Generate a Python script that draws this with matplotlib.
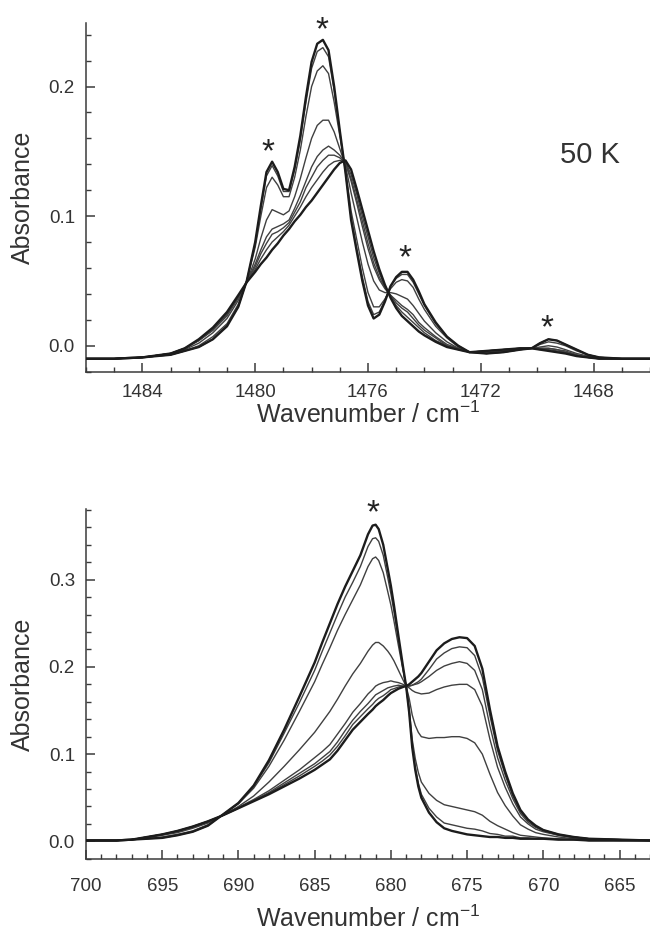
import numpy as np
import matplotlib
matplotlib.use("Agg")
import matplotlib.pyplot as plt
from matplotlib.ticker import MultipleLocator, FormatStrFormatter

plt.rcParams['font.family'] = ['Liberation Sans', 'DejaVu Sans']
plt.rcParams['mathtext.default'] = 'regular'

# ---- upper panel: CH bending region, spectra ----
top_wn = [1486, 1485, 1484, 1483, 1482.5, 1482, 1481.5, 1481, 1480.6, 1480.3,
          1480.0, 1479.8, 1479.6, 1479.4, 1479.2, 1479.0, 1478.8, 1478.6, 1478.4, 1478.2,
          1478.0, 1477.8, 1477.6, 1477.4, 1477.2, 1477.0, 1476.8, 1476.6, 1476.4, 1476.2,
          1476.0, 1475.8, 1475.6, 1475.4, 1475.2, 1475.0, 1474.8, 1474.6, 1474.4, 1474.2,
          1474.0, 1473.6, 1473.2, 1472.8, 1472.4, 1471.8, 1471.2, 1470.6, 1470.2, 1469.9,
          1469.6, 1469.3, 1469.0, 1468.6, 1468.2, 1467.8, 1467, 1466]

top_a1 = [-0.010, -0.010, -0.009, -0.007, -0.004, -0.001, 0.005, 0.015, 0.030, 0.050,
          0.080, 0.108, 0.134, 0.142, 0.134, 0.121, 0.120, 0.138, 0.162, 0.192,
          0.219, 0.233, 0.236, 0.228, 0.200, 0.166, 0.134, 0.097, 0.073, 0.050,
          0.031, 0.021, 0.024, 0.034, 0.046, 0.053, 0.057, 0.057, 0.051, 0.042,
          0.032, 0.018, 0.007, 0.000, -0.005, -0.006, -0.005, -0.003, -0.002, 0.002,
          0.005, 0.004, 0.001, -0.003, -0.007, -0.009, -0.010, -0.010]
top_a2 = [-0.010, -0.010, -0.009, -0.007, -0.004, -0.001, 0.005, 0.016, 0.030, 0.050,
          0.079, 0.106, 0.131, 0.139, 0.131, 0.119, 0.119, 0.136, 0.159, 0.188,
          0.214, 0.227, 0.230, 0.223, 0.197, 0.165, 0.134, 0.099, 0.075, 0.053,
          0.034, 0.024, 0.026, 0.035, 0.046, 0.052, 0.055, 0.055, 0.049, 0.040,
          0.031, 0.017, 0.007, 0.000, -0.005, -0.006, -0.005, -0.003, -0.002, 0.002,
          0.005, 0.004, 0.001, -0.003, -0.007, -0.009, -0.010, -0.010]
top_a3 = [-0.010, -0.010, -0.009, -0.007, -0.004, 0.000, 0.007, 0.017, 0.032, 0.050,
          0.076, 0.100, 0.122, 0.130, 0.124, 0.115, 0.115, 0.130, 0.151, 0.177,
          0.200, 0.212, 0.216, 0.210, 0.188, 0.162, 0.136, 0.104, 0.082, 0.060,
          0.041, 0.030, 0.030, 0.036, 0.044, 0.049, 0.051, 0.050, 0.045, 0.036,
          0.028, 0.015, 0.006, -0.001, -0.005, -0.006, -0.005, -0.003, -0.002, 0.001,
          0.003, 0.002, 0.000, -0.004, -0.007, -0.009, -0.010, -0.010]
top_a4 = [-0.010, -0.010, -0.009, -0.006, -0.003, 0.002, 0.010, 0.021, 0.035, 0.049,
          0.067, 0.083, 0.097, 0.105, 0.103, 0.101, 0.104, 0.115, 0.129, 0.145,
          0.160, 0.170, 0.174, 0.174, 0.165, 0.152, 0.139, 0.118, 0.099, 0.080,
          0.063, 0.050, 0.043, 0.041, 0.041, 0.040, 0.038, 0.036, 0.031, 0.025,
          0.019, 0.010, 0.003, -0.002, -0.005, -0.005, -0.004, -0.002, -0.002, -0.001,
          0.000, -0.001, -0.003, -0.006, -0.008, -0.010, -0.010, -0.010]
top_a5 = [-0.010, -0.010, -0.009, -0.006, -0.002, 0.004, 0.012, 0.023, 0.037, 0.049,
          0.063, 0.074, 0.084, 0.090, 0.092, 0.094, 0.097, 0.106, 0.116, 0.127,
          0.138, 0.146, 0.151, 0.154, 0.151, 0.147, 0.141, 0.127, 0.110, 0.092,
          0.075, 0.061, 0.051, 0.044, 0.039, 0.035, 0.031, 0.028, 0.024, 0.018,
          0.014, 0.007, 0.001, -0.002, -0.005, -0.004, -0.003, -0.002, -0.002, -0.002,
          -0.002, -0.003, -0.004, -0.007, -0.009, -0.010, -0.010, -0.010]
top_a6 = [-0.010, -0.010, -0.009, -0.006, -0.002, 0.004, 0.012, 0.024, 0.037, 0.049,
          0.061, 0.071, 0.079, 0.086, 0.088, 0.091, 0.095, 0.103, 0.111, 0.122,
          0.130, 0.138, 0.143, 0.147, 0.147, 0.145, 0.141, 0.129, 0.113, 0.096,
          0.079, 0.064, 0.053, 0.045, 0.039, 0.033, 0.029, 0.026, 0.021, 0.016,
          0.012, 0.006, 0.000, -0.002, -0.005, -0.004, -0.003, -0.002, -0.002, -0.002,
          -0.002, -0.003, -0.005, -0.007, -0.009, -0.010, -0.010, -0.010]
top_a7 = [-0.010, -0.010, -0.009, -0.006, -0.002, 0.004, 0.013, 0.025, 0.038, 0.049,
          0.059, 0.067, 0.074, 0.080, 0.084, 0.088, 0.093, 0.100, 0.107, 0.115,
          0.122, 0.128, 0.134, 0.139, 0.142, 0.143, 0.142, 0.132, 0.117, 0.100,
          0.084, 0.068, 0.056, 0.046, 0.038, 0.031, 0.026, 0.022, 0.018, 0.014,
          0.010, 0.004, 0.000, -0.003, -0.005, -0.004, -0.003, -0.002, -0.002, -0.003,
          -0.003, -0.004, -0.005, -0.008, -0.009, -0.010, -0.010, -0.010]
top_a8 = [-0.010, -0.010, -0.009, -0.006, -0.002, 0.005, 0.014, 0.026, 0.039, 0.049,
          0.057, 0.063, 0.068, 0.074, 0.079, 0.085, 0.090, 0.096, 0.101, 0.107,
          0.112, 0.118, 0.124, 0.130, 0.136, 0.141, 0.143, 0.136, 0.121, 0.105,
          0.089, 0.073, 0.059, 0.047, 0.037, 0.029, 0.023, 0.019, 0.015, 0.011,
          0.008, 0.003, -0.001, -0.003, -0.005, -0.004, -0.003, -0.002, -0.002, -0.003,
          -0.004, -0.005, -0.006, -0.008, -0.009, -0.010, -0.010, -0.010]

# ---- lower panel ----
bot_wn = [700, 698, 697, 696, 695, 694, 693, 692, 691, 690,
          689, 688, 687, 686, 685, 684.5, 684, 683.5, 683, 682.5,
          682, 681.5, 681.2, 681.0, 680.8, 680.5, 680.2, 680.0, 679.8, 679.5,
          679.2, 679.0, 678.8, 678.6, 678.4, 678.2, 678.0, 677.5, 677.0, 676.5,
          676, 675.5, 675, 674.5, 674, 673.5, 673, 672.5, 672, 671.5,
          671, 670.5, 670, 669, 668, 667, 665, 663]

bot_a1 = [0.001, 0.001, 0.002, 0.003, 0.004, 0.007, 0.011, 0.018, 0.031, 0.044,
          0.064, 0.093, 0.128, 0.166, 0.205, 0.228, 0.250, 0.272, 0.292, 0.310,
          0.328, 0.352, 0.362, 0.363, 0.358, 0.340, 0.312, 0.293, 0.271, 0.235,
          0.200, 0.178, 0.148, 0.108, 0.082, 0.063, 0.050, 0.033, 0.022, 0.015,
          0.012, 0.010, 0.008, 0.007, 0.006, 0.005, 0.005, 0.004, 0.004, 0.003,
          0.003, 0.003, 0.003, 0.002, 0.002, 0.001, 0.001, 0.001]
bot_a2 = [0.001, 0.001, 0.002, 0.003, 0.004, 0.007, 0.011, 0.018, 0.031, 0.044,
          0.063, 0.090, 0.124, 0.159, 0.196, 0.218, 0.239, 0.260, 0.280, 0.297,
          0.315, 0.338, 0.347, 0.348, 0.344, 0.328, 0.302, 0.284, 0.264, 0.231,
          0.198, 0.178, 0.149, 0.110, 0.085, 0.067, 0.054, 0.038, 0.028, 0.021,
          0.019, 0.017, 0.015, 0.014, 0.012, 0.009, 0.008, 0.006, 0.006, 0.004,
          0.004, 0.003, 0.003, 0.002, 0.002, 0.001, 0.001, 0.001]
bot_a3 = [0.001, 0.001, 0.002, 0.003, 0.005, 0.008, 0.012, 0.019, 0.031, 0.043,
          0.061, 0.086, 0.116, 0.149, 0.183, 0.203, 0.222, 0.242, 0.260, 0.277,
          0.294, 0.315, 0.324, 0.326, 0.322, 0.308, 0.286, 0.271, 0.253, 0.224,
          0.196, 0.178, 0.152, 0.117, 0.095, 0.079, 0.068, 0.055, 0.047, 0.042,
          0.040, 0.038, 0.036, 0.034, 0.030, 0.023, 0.018, 0.014, 0.010, 0.007,
          0.006, 0.005, 0.004, 0.003, 0.002, 0.001, 0.001, 0.001]
bot_a4 = [0.001, 0.001, 0.002, 0.004, 0.007, 0.010, 0.015, 0.021, 0.030, 0.040,
          0.052, 0.068, 0.086, 0.105, 0.125, 0.137, 0.149, 0.163, 0.178, 0.192,
          0.204, 0.218, 0.225, 0.228, 0.228, 0.224, 0.218, 0.213, 0.207, 0.196,
          0.185, 0.178, 0.164, 0.145, 0.133, 0.125, 0.120, 0.118, 0.119, 0.119,
          0.120, 0.120, 0.118, 0.113, 0.100, 0.077, 0.056, 0.041, 0.029, 0.019,
          0.014, 0.010, 0.008, 0.005, 0.003, 0.002, 0.001, 0.001]
bot_a5 = [0.001, 0.001, 0.002, 0.005, 0.008, 0.011, 0.016, 0.022, 0.030, 0.039,
          0.048, 0.058, 0.070, 0.082, 0.096, 0.103, 0.111, 0.123, 0.135, 0.148,
          0.158, 0.169, 0.174, 0.178, 0.180, 0.182, 0.183, 0.184, 0.183, 0.182,
          0.180, 0.178, 0.176, 0.173, 0.171, 0.170, 0.169, 0.170, 0.174, 0.177,
          0.179, 0.180, 0.180, 0.174, 0.155, 0.117, 0.085, 0.062, 0.043, 0.028,
          0.020, 0.014, 0.011, 0.007, 0.004, 0.003, 0.002, 0.001]
bot_a6 = [0.001, 0.001, 0.002, 0.005, 0.008, 0.012, 0.017, 0.023, 0.030, 0.038,
          0.047, 0.056, 0.067, 0.078, 0.089, 0.096, 0.103, 0.114, 0.127, 0.139,
          0.149, 0.158, 0.164, 0.168, 0.170, 0.173, 0.176, 0.177, 0.178, 0.179,
          0.178, 0.178, 0.178, 0.179, 0.180, 0.181, 0.183, 0.189, 0.196, 0.201,
          0.204, 0.206, 0.204, 0.196, 0.174, 0.132, 0.096, 0.070, 0.049, 0.032,
          0.022, 0.016, 0.012, 0.007, 0.005, 0.003, 0.002, 0.001]
bot_a7 = [0.001, 0.001, 0.002, 0.005, 0.008, 0.012, 0.017, 0.023, 0.030, 0.038,
          0.047, 0.055, 0.065, 0.075, 0.086, 0.092, 0.099, 0.109, 0.121, 0.134,
          0.143, 0.152, 0.157, 0.161, 0.164, 0.167, 0.171, 0.174, 0.175, 0.177,
          0.178, 0.178, 0.178, 0.179, 0.181, 0.183, 0.186, 0.197, 0.209, 0.216,
          0.221, 0.223, 0.222, 0.213, 0.188, 0.144, 0.104, 0.076, 0.052, 0.034,
          0.024, 0.017, 0.013, 0.008, 0.005, 0.003, 0.002, 0.001]
bot_a8 = [0.001, 0.001, 0.002, 0.005, 0.008, 0.012, 0.017, 0.023, 0.030, 0.038,
          0.046, 0.054, 0.063, 0.072, 0.082, 0.088, 0.094, 0.104, 0.116, 0.128,
          0.137, 0.146, 0.151, 0.155, 0.158, 0.162, 0.167, 0.170, 0.172, 0.175,
          0.177, 0.178, 0.180, 0.183, 0.186, 0.189, 0.193, 0.206, 0.219, 0.227,
          0.232, 0.234, 0.233, 0.224, 0.198, 0.151, 0.109, 0.080, 0.055, 0.036,
          0.025, 0.018, 0.013, 0.008, 0.005, 0.003, 0.002, 0.001]

# peaks marked with an asterisk
top_star_wn = [1479.53, 1477.64, 1474.69, 1469.64]
top_star_abs = [0.157, 0.2515, 0.0752, 0.0212]
bot_star_wn = [681.15]
bot_star_abs = [0.388]

txt = '#333333'


def draw_spectra(ax, wn, curves):
    n = len(curves)
    for i, a in enumerate(curves):
        end = i == 0 or i == n - 1
        ax.plot(wn, a, color='#1c1c1c' if end else '#404040',
                lw=1.7 if end else 1.0, solid_joinstyle='round',
                solid_capstyle='round', zorder=3 if end else 2)


def style_axes(ax, xlim, ylim, xmaj, ymaj, xpad):
    ax.set_xlim(*xlim)
    ax.set_ylim(*ylim)
    ax.spines['top'].set_visible(False)
    ax.spines['right'].set_visible(False)
    for s in ['left', 'bottom']:
        ax.spines[s].set_linewidth(1.1)
        ax.spines[s].set_color('#3a3a3a')
    ax.xaxis.set_major_locator(MultipleLocator(xmaj))
    ax.xaxis.set_minor_locator(MultipleLocator(1))
    ax.yaxis.set_major_locator(MultipleLocator(ymaj))
    ax.yaxis.set_minor_locator(MultipleLocator(0.02))
    ax.yaxis.set_major_formatter(FormatStrFormatter('%.1f'))
    ax.tick_params(which='both', direction='in', color='#3a3a3a',
                   labelcolor=txt, labelsize=13.5)
    ax.tick_params(which='major', length=6.5, width=1.1)
    ax.tick_params(which='minor', length=3.5, width=1.0)
    ax.tick_params(axis='x', pad=xpad)
    ax.tick_params(axis='y', pad=8)


def stars(ax, wn, ab):
    for w, a in zip(wn, ab):
        ax.annotate('*', xy=(w, a), xytext=(0, -13.7), textcoords='offset points',
                    ha='center', va='baseline', fontsize=24, color='#222222',
                    annotation_clip=False)


fig = plt.figure(figsize=(6.5, 9.35), dpi=100)
ax1 = fig.add_axes([0.1323, 0.6021, 0.8677, 0.3733])
ax2 = fig.add_axes([0.1323, 0.0813, 0.8677, 0.3743])

draw_spectra(ax1, top_wn, [top_a1, top_a2, top_a3, top_a4,
                           top_a5, top_a6, top_a7, top_a8])
draw_spectra(ax2, bot_wn, [bot_a1, bot_a2, bot_a3, bot_a4,
                           bot_a5, bot_a6, bot_a7, bot_a8])

style_axes(ax1, (1486, 1466), (-0.0203, 0.249), 4, 0.1, 8.5)
style_axes(ax2, (700, 663), (-0.0202, 0.381), 5, 0.1, 14)

stars(ax1, top_star_wn, top_star_abs)
stars(ax2, bot_star_wn, bot_star_abs)

ax1.text(0.894, 0.599, '50 K', transform=ax1.transAxes, ha='center',
         va='baseline', fontsize=21, color=txt)

for ax, xlab_y in [(ax1, -0.122), (ax2, -0.172)]:
    ax.set_xlabel('Wavenumber / cm$^{-1}$', fontsize=18, color=txt, va='center')
    ax.set_ylabel('Absorbance', fontsize=18, color=txt, va='center')
    ax.xaxis.set_label_coords(0.5, xlab_y)
    ax.yaxis.set_label_coords(-0.112, 0.5)

fig.savefig('out.png', dpi=100)
